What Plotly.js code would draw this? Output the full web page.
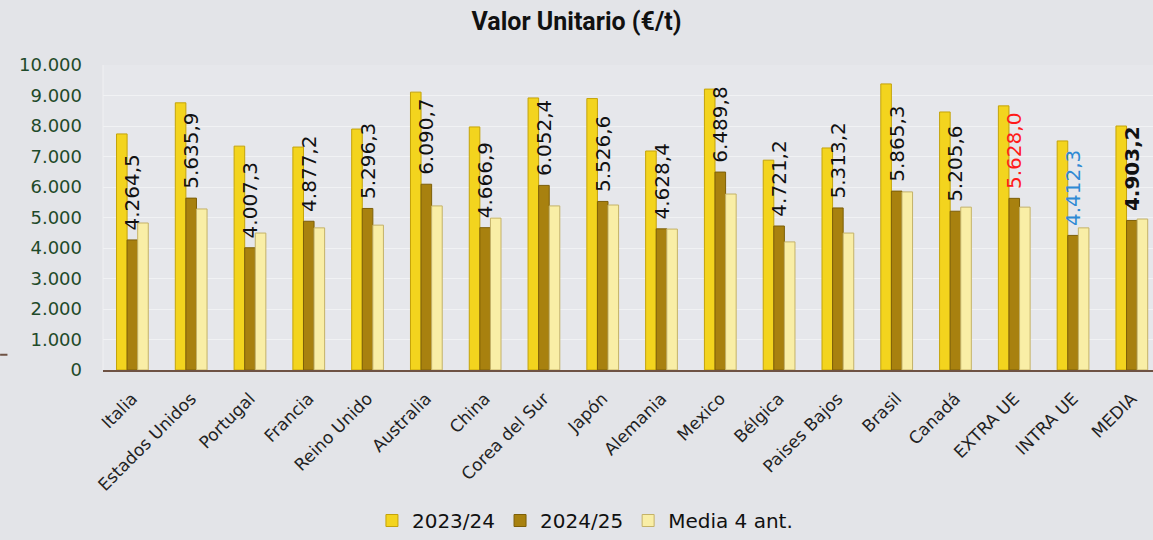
<!DOCTYPE html>
<html>
<head>
<meta charset="utf-8">
<script src="https://cdn.plot.ly/plotly-3.0.1.min.js"></script>
<style>
html,body{margin:0;padding:0;background:#e3e4e8;}
#chart{width:1153px;height:540px;}
</style>
</head>
<body>
<div id="chart"></div>
<script>
const categories = ["Italia","Estados Unidos","Portugal","Francia","Reino Unido","Australia","China","Corea del Sur","Japón","Alemania","Mexico","Bélgica","Paises Bajos","Brasil","Canadá","EXTRA UE","INTRA UE","MEDIA"];
const v2023_24 = [7740,8760,7340,7310,7900,9110,7970,8920,8900,7180,9210,6880,7280,9380,8460,8660,7510,8000];
const v2024_25 = [4264.5,5635.9,4007.3,4877.2,5296.3,6090.7,4666.9,6052.4,5526.6,4628.4,6489.8,4721.2,5313.2,5865.3,5205.6,5628.0,4412.3,4903.2];
const vMedia4 = [4820,5280,4490,4660,4750,5380,4980,5380,5410,4620,5770,4200,4490,5840,5340,5340,4660,4950];
const seriesNames = ["2023/24","2024/25","Media 4 ant."];
const labelColors = categories.map(c => c === "EXTRA UE" ? "#ff1a1a" : (c === "INTRA UE" ? "#2f8ad4" : "#111111"));
const labelTemplates = categories.map(c => c === "MEDIA" ? "\u00a0<b>%{y:,.1f}</b>" : "\u00a0%{y:,.1f}");

const traces = [
  {type:"bar", name:seriesNames[0], x:categories, y:v2023_24,
   marker:{color:"#f3d41e", line:{color:"#c4a30a", width:1}}, hoverinfo:"y"},
  {type:"bar", name:seriesNames[1], x:categories, y:v2024_25,
   marker:{color:"#a8810f", line:{color:"#7d5f08", width:1}},
   texttemplate:labelTemplates, textposition:"outside", textangle:-90, constraintext:"none",
   textfont:{family:"DejaVu Sans, sans-serif", size:20, color:labelColors},
   cliponaxis:false, hoverinfo:"y"},
  {type:"bar", name:seriesNames[2], x:categories, y:vMedia4,
   marker:{color:"#f9eea6", line:{color:"#c4b268", width:1}}, hoverinfo:"y"}
];

const layout = {
  width:1153, height:540,
  paper_bgcolor:"#e3e4e8", plot_bgcolor:"#e6e7eb",
  separators:",.",
  margin:{l:103, r:0, t:65, b:169.5},
  title:{text:"<b>Valor Unitario (€/t)</b>", x:0.5, xanchor:"center", y:0.96, yanchor:"middle",
         font:{family:"Roboto, sans-serif", size:25, color:"#111"}},
  barmode:"group", bargap:0.46, bargroupgap:0,
  showlegend:true,
  legend:{orientation:"h", x:0.459, xanchor:"center", y:-0.495, yanchor:"middle",
          font:{family:"DejaVu Sans, sans-serif", size:20, color:"#111"},
          itemwidth:30, traceorder:"normal", bgcolor:"rgba(0,0,0,0)"},
  xaxis:{type:"category", range:[-0.5,17.36], tickangle:-45, showgrid:false,
         showline:true, linecolor:"#6e5244", linewidth:2, ticks:"", ticklabelstandoff:10,
         tickfont:{family:"DejaVu Sans, sans-serif", size:17, color:"#222"}, fixedrange:true},
  yaxis:{range:[0,10000], dtick:1000, tickformat:",d", showgrid:true, gridcolor:"#f1f2f4", gridwidth:1,
         zeroline:false, showline:false, ticks:"", ticklabelstandoff:20,
         tickfont:{family:"DejaVu Sans, sans-serif", size:18, color:"#1f4a2a"}, fixedrange:true},
  shapes:[
    {type:"line", xref:"paper", yref:"paper", x0:0, x1:0, y0:0, y1:1, line:{color:"#f0f1f3", width:1}},
    {type:"line", xref:"paper", yref:"y", x0:-0.098, x1:-0.091, y0:500, y1:500, line:{color:"#6e5244", width:2}}
  ]
};

Plotly.newPlot("chart", traces, layout, {displayModeBar:false, staticPlot:true});
</script>
</body>
</html>
